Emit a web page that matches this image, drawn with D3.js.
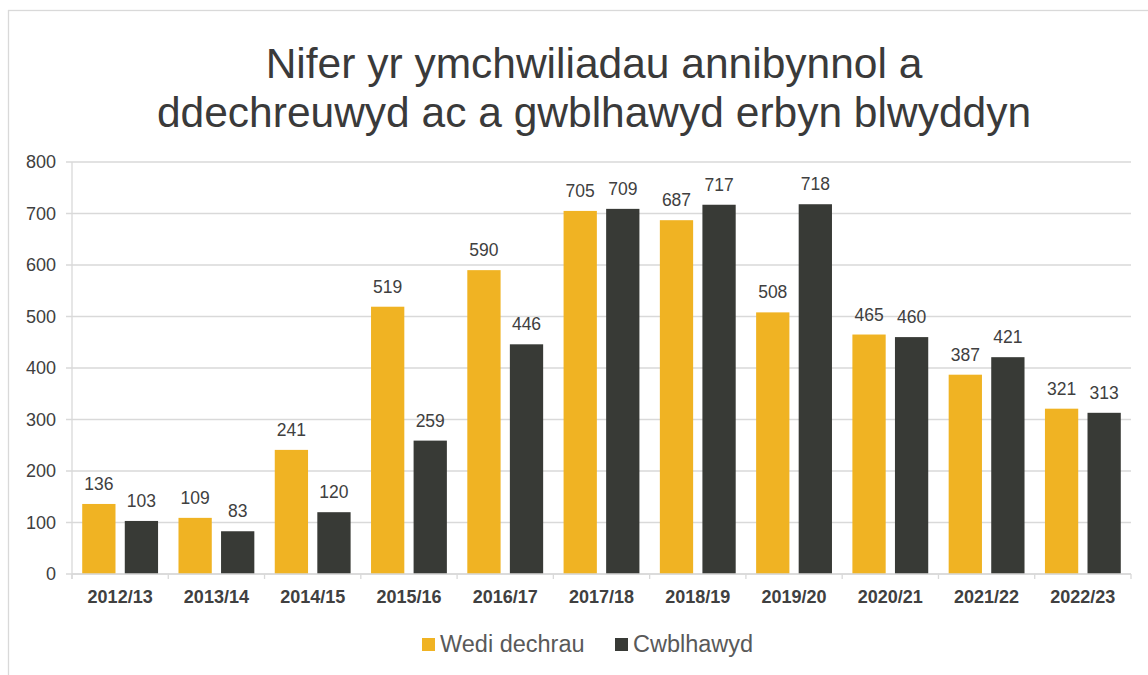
<!DOCTYPE html>
<html>
<head>
<meta charset="utf-8">
<script src="https://cdn.jsdelivr.net/npm/d3@7"></script>
<style>
  body { margin: 0; background: #fff; }
  svg { font-family: "Liberation Sans", Arial, sans-serif; }
</style>
</head>
<body>
<script>
// chart data
var years = ["2012/13", "2013/14", "2014/15", "2015/16", "2016/17", "2017/18",
             "2018/19", "2019/20", "2020/21", "2021/22", "2022/23"];
var started = [136, 109, 241, 519, 590, 705, 687, 508, 465, 387, 321];
var completed = [103, 83, 120, 259, 446, 709, 717, 718, 460, 421, 313];
var seriesNames = ["Wedi dechrau", "Cwblhawyd"];
var yTicks = [0, 100, 200, 300, 400, 500, 600, 700, 800];
var titleLines = ["Nifer yr ymchwiliadau annibynnol a", "ddechreuwyd ac a gwblhawyd erbyn blwyddyn"];

var colors = ["#F0B323", "#383A36"];

var width = 1148,
    height = 675;
var margin = {left: 72, right: 17, top: 162, bottom: 101};

var svg = d3.select("body").append("svg")
    .attr("width", width)
    .attr("height", height);

// outer frame (cropped at right/bottom)
svg.append("rect")
    .attr("x", 8.5).attr("y", 10.5)
    .attr("width", width + 20).attr("height", height + 20)
    .attr("fill", "none")
    .attr("stroke", "#d9d9d9")
    .attr("stroke-width", 1.3);

// title
svg.append("g").selectAll("text").data(titleLines)
    .enter().append("text")
    .attr("x", 594)
    .attr("y", function(d, i) { return 78 + i * 49; })
    .attr("text-anchor", "middle")
    .attr("font-size", 42.5)
    .attr("fill", "#3a3a3a")
    .text(function(d) { return d; });

var x = d3.scaleBand()
    .domain(years)
    .range([margin.left, width - margin.right]);

var x1 = d3.scaleBand()
    .domain([0, 1])
    .range([0, x.bandwidth()])
    .paddingInner(0.218)
    .paddingOuter(0.24);

var y = d3.scaleLinear()
    .domain([0, 800])
    .range([height - margin.bottom, margin.top]);

// gridlines
svg.append("g").selectAll("line").data(yTicks)
    .enter().append("line")
    .attr("x1", margin.left - 6)
    .attr("x2", width - margin.right)
    .attr("y1", function(d) { return y(d); })
    .attr("y2", function(d) { return y(d); })
    .attr("stroke", "#d9d9d9")
    .attr("stroke-width", 1.3);

// y labels
svg.append("g").selectAll("text").data(yTicks)
    .enter().append("text")
    .attr("x", margin.left - 16)
    .attr("y", function(d) { return y(d); })
    .attr("dy", "0.35em")
    .attr("text-anchor", "end")
    .attr("font-size", 18)
    .attr("fill", "#404040")
    .text(function(d) { return d; });

// y axis line
svg.append("line")
    .attr("x1", margin.left).attr("x2", margin.left)
    .attr("y1", y(800)).attr("y2", y(0) + 5)
    .attr("stroke", "#d9d9d9").attr("stroke-width", 1.3);

// bars
var rows = years.map(function(yr, i) {
    return {year: yr, values: [started[i], completed[i]]};
});

var groups = svg.append("g").selectAll("g").data(rows)
    .enter().append("g")
    .attr("transform", function(d) { return "translate(" + x(d.year) + ",0)"; });

groups.selectAll("rect")
    .data(function(d) { return d.values; })
    .enter().append("rect")
    .attr("x", function(d, i) { return x1(i); })
    .attr("width", x1.bandwidth())
    .attr("y", function(d) { return y(d); })
    .attr("height", function(d) { return y(0) - y(d); })
    .attr("fill", function(d, i) { return colors[i]; });

groups.selectAll("text")
    .data(function(d) { return d.values; })
    .enter().append("text")
    .attr("x", function(d, i) { return x1(i) + x1.bandwidth() / 2; })
    .attr("y", function(d) { return y(d) - 14; })
    .attr("text-anchor", "middle")
    .attr("font-size", 17.5)
    .attr("fill", "#404040")
    .text(function(d) { return d; });

// x axis
var xAxis = svg.append("g")
    .attr("transform", "translate(0," + y(0) + ")");
xAxis.append("line")
    .attr("x1", margin.left).attr("x2", width - margin.right)
    .attr("stroke", "#d9d9d9").attr("stroke-width", 1.3);
xAxis.selectAll("line.tick").data(years.concat(["end"]))
    .enter().append("line")
    .attr("class", "tick")
    .attr("x1", function(d, i) { return margin.left + i * x.step(); })
    .attr("x2", function(d, i) { return margin.left + i * x.step(); })
    .attr("y1", 0).attr("y2", 5)
    .attr("stroke", "#d9d9d9").attr("stroke-width", 1.3);
xAxis.selectAll("text").data(years)
    .enter().append("text")
    .attr("x", function(d) { return x(d) + x.bandwidth() / 2; })
    .attr("y", 29)
    .attr("text-anchor", "middle")
    .attr("font-size", 18)
    .attr("font-weight", "bold")
    .attr("fill", "#404040")
    .text(function(d) { return d; });

// legend
var legendX = [422, 615];
var legend = svg.append("g").selectAll("g").data(seriesNames)
    .enter().append("g")
    .attr("transform", function(d, i) { return "translate(" + legendX[i] + ",638)"; });
legend.append("rect")
    .attr("width", 13).attr("height", 13)
    .attr("fill", function(d, i) { return colors[i]; });
legend.append("text")
    .attr("x", 18).attr("y", 14)
    .attr("font-size", 23.5)
    .attr("fill", "#595959")
    .text(function(d) { return d; });
</script>
</body>
</html>
